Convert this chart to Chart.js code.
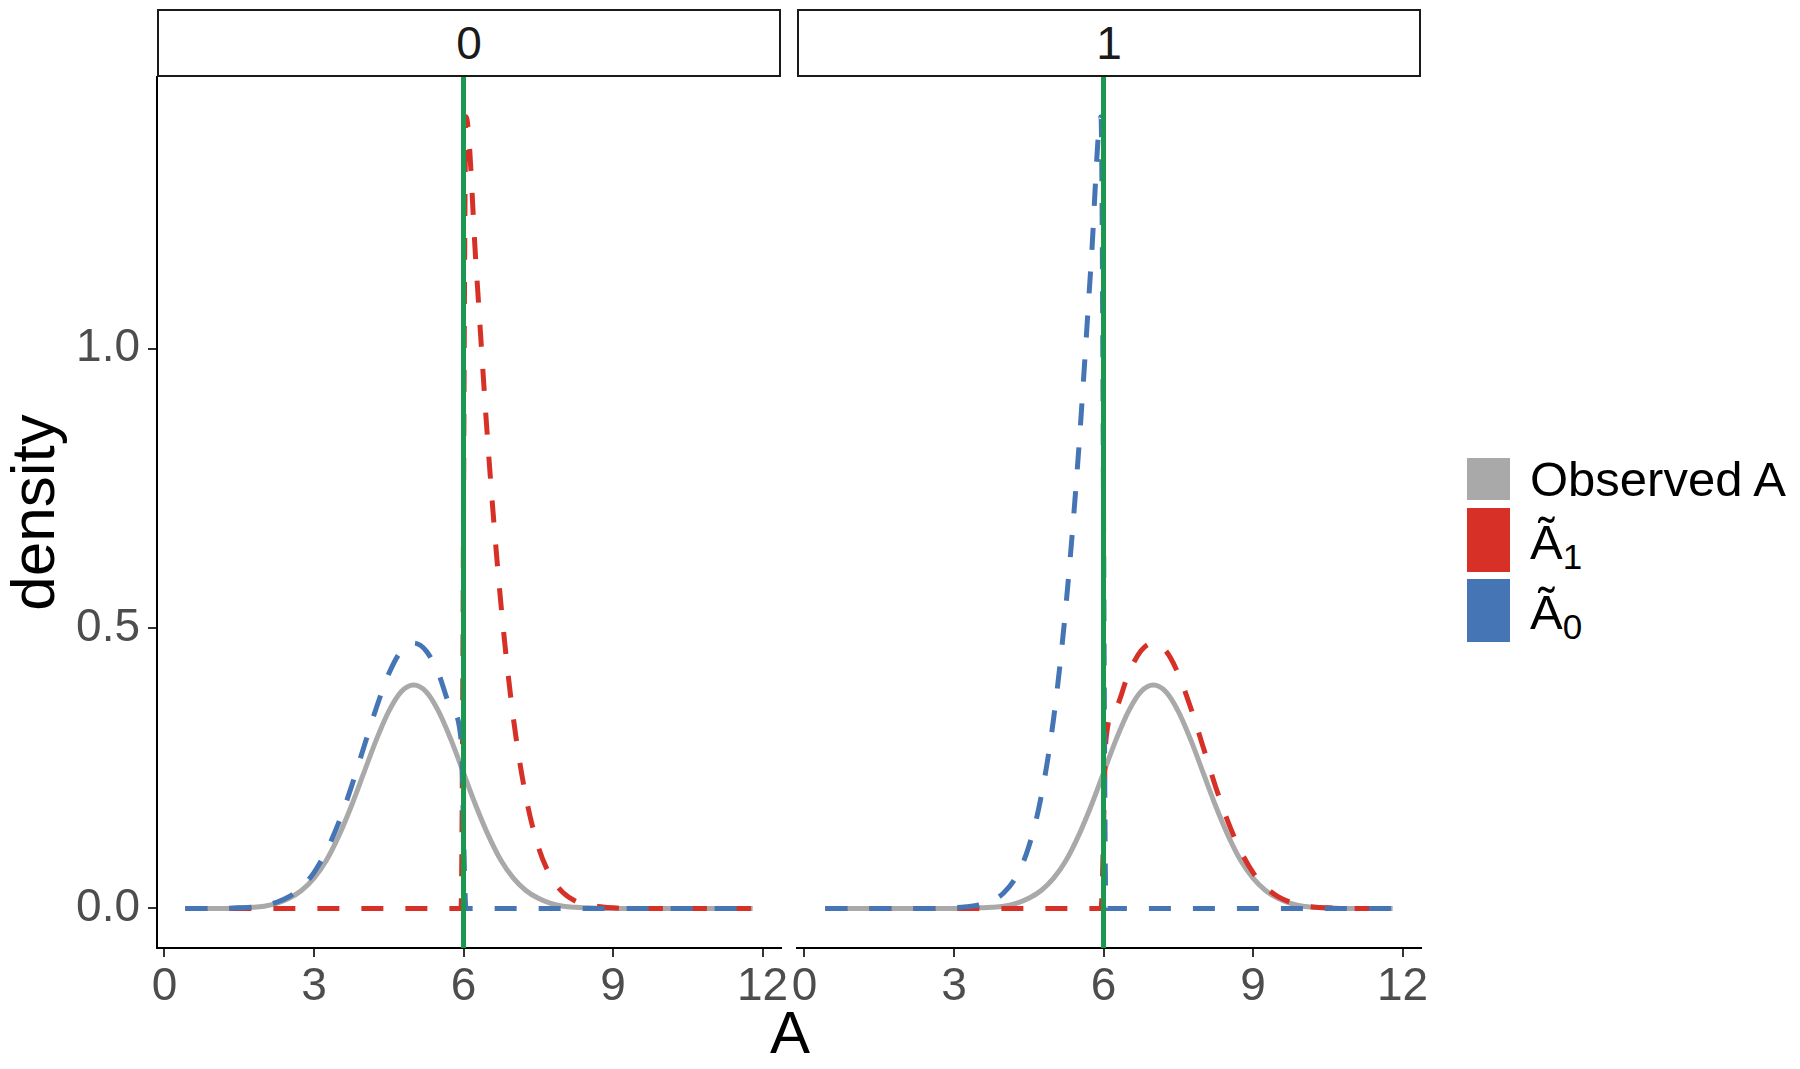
<!DOCTYPE html>
<html>
<head>
<meta charset="utf-8">
<script src="https://cdn.jsdelivr.net/npm/chart.js@4.4.1/dist/chart.umd.min.js"></script>
<style>
  body { margin: 0; background: #fff; width: 1800px; height: 1069px; position: relative; overflow: hidden; font-family: "Liberation Sans", Arial, sans-serif; }
  canvas { position: absolute; top: 0; }
  .strip { position: absolute; top: 9px; height: 68px; box-sizing: border-box; border: 2px solid #1a1a1a; background: #fff; text-align: center; font-size: 46px; line-height: 64px; color: #1a1a1a; }
  .xtitle { position: absolute; left: 740px; width: 100px; top: 998px; text-align: center; font-size: 60px; line-height: 70px; color: #000; }
  .row { position: absolute; left: 1467px; display: flex; align-items: center; }
  .sw { width: 43px; height: 100%; margin-right: 20px; }
  .lab { font-size: 49px; color: #000; white-space: nowrap; }
  .lab sub { font-size: 35px; vertical-align: -10px; }
  .lab.math { position: relative; top: 5px; }
</style>
</head>
<body>
<canvas id="panel0" width="820" height="1069" style="left:0px"></canvas>
<canvas id="panel1" width="700" height="1069" style="left:760px"></canvas>
<div id="strips"></div>
<div class="xtitle">A</div>
<div id="legend"></div>
<script>
// shared grid of A values where the curves were read
const xs = [0.42, 0.75, 1.0, 1.25, 1.5, 1.75, 2.0, 2.25, 2.5, 2.75, 3.0, 3.25, 3.5, 3.75, 4.0, 4.25, 4.5, 4.75, 5.0, 5.25, 5.5, 5.75,
            5.95, 6.05,
            6.25, 6.5, 6.75, 7.0, 7.25, 7.5, 7.75, 8.0, 8.25, 8.5, 8.75, 9.0, 9.25, 9.5, 9.75, 10.0, 10.25, 10.5, 10.75, 11.0, 11.25, 11.5, 11.75, 11.8];

// panel "0"
const observed0 = [0, 0, 0, 0, 0.001, 0.002, 0.004, 0.009, 0.018, 0.032, 0.054, 0.086, 0.130, 0.183, 0.242, 0.301, 0.352, 0.387, 0.399, 0.387, 0.352, 0.301,
                   0.254, 0.230,
                   0.183, 0.130, 0.086, 0.054, 0.032, 0.018, 0.009, 0.004, 0.002, 0.001, 0, 0, 0, 0, 0, 0, 0, 0, 0, 0, 0, 0, 0, 0];
const tildeA1_0 = [0, 0, 0, 0, 0, 0, 0, 0, 0, 0, 0, 0, 0, 0, 0, 0, 0, 0, 0, 0, 0, 0,
                   0, 1.414,
                   1.151, 0.816, 0.544, 0.340, 0.200, 0.110, 0.057, 0.028, 0.013, 0.006, 0.003, 0.001, 0, 0, 0, 0, 0, 0, 0, 0, 0, 0, 0, 0];
const tildeA0_0 = [0, 0, 0, 0, 0.001, 0.002, 0.005, 0.011, 0.021, 0.038, 0.064, 0.103, 0.154, 0.217, 0.288, 0.358, 0.419, 0.460, 0.474, 0.460, 0.419, 0.358,
                   0.302, 0,
                   0, 0, 0, 0, 0, 0, 0, 0, 0, 0, 0, 0, 0, 0, 0, 0, 0, 0, 0, 0, 0, 0, 0, 0];

// panel "1"
const observed1 = [0, 0, 0, 0, 0, 0, 0, 0, 0, 0, 0, 0, 0.001, 0.002, 0.004, 0.009, 0.018, 0.032, 0.054, 0.086, 0.130, 0.183,
                   0.230, 0.254,
                   0.301, 0.352, 0.387, 0.399, 0.387, 0.352, 0.301, 0.242, 0.183, 0.130, 0.086, 0.054, 0.032, 0.018, 0.009, 0.004, 0.002, 0.001, 0, 0, 0, 0, 0, 0];
const tildeA1_1 = [0, 0, 0, 0, 0, 0, 0, 0, 0, 0, 0, 0, 0, 0, 0, 0, 0, 0, 0, 0, 0, 0,
                   0, 0.302,
                   0.358, 0.419, 0.460, 0.474, 0.460, 0.419, 0.358, 0.288, 0.217, 0.154, 0.103, 0.064, 0.038, 0.021, 0.011, 0.005, 0.002, 0.001, 0, 0, 0, 0, 0, 0];
const tildeA0_1 = [0, 0, 0, 0, 0, 0, 0, 0, 0, 0, 0.001, 0.003, 0.006, 0.013, 0.028, 0.057, 0.110, 0.200, 0.340, 0.544, 0.816, 1.151,
                   1.414, 0,
                   0, 0, 0, 0, 0, 0, 0, 0, 0, 0, 0, 0, 0, 0, 0, 0, 0, 0, 0, 0, 0, 0, 0, 0];

const panelLabels = ['0', '1'];
const threshold = 6;
const xTicks = [0, 3, 6, 9, 12];
const yTicks = [0, 0.5, 1.0];
const xLimits = [-0.149, 12.369];
const yLimits = [-0.0707, 1.485];
const legendLabels = ['Observed A', 'Ã<sub>1</sub>', 'Ã<sub>0</sub>'];
const seriesColors = ['#A9A9A9', '#D73027', '#4575B4'];
const lineColor = '#1A9850';

const family = '"Liberation Sans", Arial, sans-serif';

function pts(ys) {
  return xs.map((x, i) => ({ x: x, y: ys[i] }));
}

function makePanel(id, obs, a1, a0, showY, pad) {
  let ctx = document.getElementById(id).getContext('2d');
  return new Chart(ctx, {
    type: 'line',
    data: {
      datasets: [
        { label: 'A = 6', data: [{ x: threshold, y: yLimits[0] }, { x: threshold, y: yLimits[1] }],
          borderColor: lineColor, borderWidth: 5, order: 1, cubicInterpolationMode: 'default', tension: 0 },
        { label: 'Ã0', data: pts(a0), borderColor: seriesColors[2], borderDash: [22, 22], order: 2 },
        { label: 'Ã1', data: pts(a1), borderColor: seriesColors[1], borderDash: [22, 22], order: 3 },
        { label: 'Observed A', data: pts(obs), borderColor: seriesColors[0], order: 4 }
      ]
    },
    options: {
      responsive: false,
      animation: false,
      layout: { padding: pad },
      plugins: { legend: { display: false }, tooltip: { enabled: false } },
      elements: {
        point: { radius: 0 },
        line: { borderWidth: 5, fill: false, cubicInterpolationMode: 'monotone', borderCapStyle: 'butt' }
      },
      scales: {
        x: {
          type: 'linear',
          min: xLimits[0],
          max: xLimits[1],
          afterBuildTicks: s => { s.ticks = xTicks.map(v => ({ value: v })); },
          afterFit: s => { s.height = 80; },
          grid: { display: true, drawOnChartArea: false, drawTicks: true, tickLength: 9, color: '#333', lineWidth: 2 },
          border: { display: true, color: '#000', width: 2 },
          ticks: { font: { size: 46, family: family }, color: '#4D4D4D', padding: 3, maxRotation: 0, autoSkip: false }
        },
        y: {
          display: showY,
          min: yLimits[0],
          max: yLimits[1],
          afterBuildTicks: s => { s.ticks = yTicks.map(v => ({ value: v })); },
          afterFit: s => { s.width = showY ? 157 : 0; },
          grid: { display: true, drawOnChartArea: false, drawTicks: true, tickLength: 9, color: '#333', lineWidth: 2 },
          border: { display: true, color: '#000', width: 2 },
          ticks: { font: { size: 46, family: family }, color: '#4D4D4D', padding: 8, callback: v => v.toFixed(1) },
          title: { display: true, text: 'density', font: { size: 62, family: family }, color: '#000', padding: 0 }
        }
      }
    }
  });
}

makePanel('panel0', observed0, tildeA1_0, tildeA0_0, true, { left: 0, right: 39, top: 77, bottom: 41 });
makePanel('panel1', observed1, tildeA1_1, tildeA0_1, false, { left: 37, right: 39, top: 77, bottom: 41 });

// facet strips
const stripLeft = [157, 797];
panelLabels.forEach((t, i) => {
  let d = document.createElement('div');
  d.className = 'strip';
  d.style.left = stripLeft[i] + 'px';
  d.style.width = '624px';
  d.textContent = t;
  document.getElementById('strips').appendChild(d);
});

// legend
const rowTop = [458, 508, 579];
const rowHeight = [42, 64, 63];
legendLabels.forEach((t, i) => {
  let r = document.createElement('div');
  r.className = 'row';
  r.style.top = rowTop[i] + 'px';
  r.style.height = rowHeight[i] + 'px';
  r.innerHTML = '<span class="sw" style="background:' + seriesColors[i] + '"></span><span class="lab' + (i > 0 ? ' math' : '') + '">' + t + '</span>';
  document.getElementById('legend').appendChild(r);
});
</script>
</body>
</html>
